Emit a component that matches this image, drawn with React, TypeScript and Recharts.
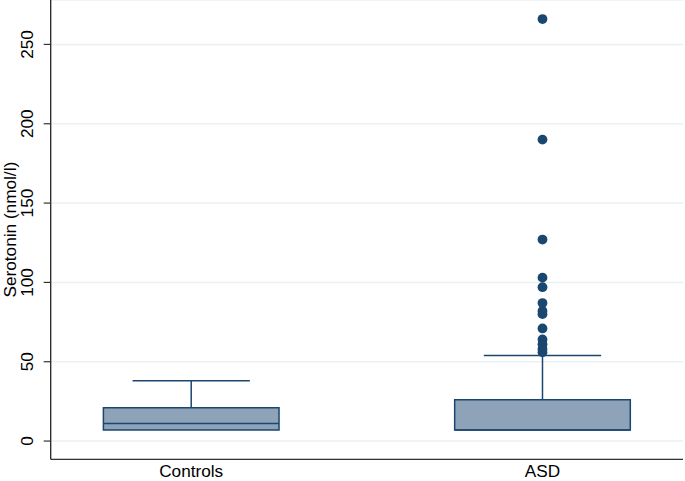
import React from 'react';
import {
  ComposedChart,
  Scatter,
  XAxis,
  YAxis,
  CartesianGrid,
  ReferenceArea,
  ReferenceLine,
  Label,
} from 'recharts';

const categories = ['Controls', 'ASD'];
const categoryPos = [1, 2];
const lowerWhisker = [7, 7];
const q1 = [7, 7];
const median = [11, 7];
const q3 = [21, 26];
const upperWhisker = [38, 54];
const asdOutliers = [266, 190, 127, 103, 97, 87, 82, 80, 71, 64, 61, 58, 56];
const yTicks = [0, 50, 100, 150, 200, 250];

const BOX_HALF = 0.25;
const CAP_HALF = 0.167;
const NAVY = '#1a476f';
const BOX_FILL = '#8fa3b8';
const FONT = '"Liberation Sans", Arial, Helvetica, sans-serif';
const FS = 17.2;

const outlierData = asdOutliers.map((v) => ({ x: categoryPos[1], y: v }));

const YTick = (props: any) => {
  const { y, payload } = props;
  const tx = 33.5;
  return (
    <text
      x={tx}
      y={y}
      transform={`rotate(-90, ${tx}, ${y})`}
      textAnchor="middle"
      fontFamily={FONT}
      fontSize={FS}
      fill="#000"
    >
      {payload.value}
    </text>
  );
};

const XTick = (props: any) => {
  const { x, payload } = props;
  const idx = categoryPos.indexOf(payload.value);
  return (
    <text x={x} y={477.3} textAnchor="middle" fontFamily={FONT} fontSize={FS} fill="#000">
      {idx >= 0 ? categories[idx] : ''}
    </text>
  );
};

const YLabel = (props: any) => {
  const vb = props.viewBox || { y: 0, height: 459 };
  const cy = vb.y + vb.height / 2;
  const tx = 15.8;
  return (
    <text
      x={tx}
      y={cy}
      transform={`rotate(-90, ${tx}, ${cy})`}
      textAnchor="middle"
      fontFamily={FONT}
      fontSize={FS}
      fill="#000"
    >
      Serotonin (nmol/l)
    </text>
  );
};

export default function App() {
  return (
    <div style={{ position: 'absolute', left: 0, top: 0, background: '#fff' }}>
      <ComposedChart
        width={685}
        height={481}
        margin={{ top: 0, right: 2, bottom: 0, left: 0 }}
      >
        <CartesianGrid vertical={false} stroke="#eaf1f3" strokeWidth={1.5} />
        <XAxis
          type="number"
          dataKey="x"
          domain={[0.6, 2.4]}
          ticks={categoryPos}
          allowDataOverflow
          height={21.7}
          tickLine={false}
          tick={<XTick />}
          axisLine={{ stroke: '#333', strokeWidth: 1.2 }}
        />
        <YAxis
          type="number"
          dataKey="y"
          domain={[-11.5, 278]}
          ticks={yTicks}
          allowDataOverflow
          width={50.7}
          tickSize={7}
          tickLine={{ stroke: '#333', strokeWidth: 1.2 }}
          tick={<YTick />}
          axisLine={{ stroke: '#222', strokeWidth: 1.3 }}
        >
          <Label content={<YLabel />} />
        </YAxis>
        {categoryPos.map((c, i) => (
          <ReferenceLine
            key={`wl-${i}`}
            segment={[
              { x: c, y: q3[i] },
              { x: c, y: upperWhisker[i] },
            ]}
            stroke={NAVY}
            strokeWidth={1.5}
          />
        ))}
        {categoryPos.map((c, i) => (
          <ReferenceLine
            key={`ll-${i}`}
            segment={[
              { x: c, y: lowerWhisker[i] },
              { x: c, y: q1[i] },
            ]}
            stroke={NAVY}
            strokeWidth={1.5}
          />
        ))}
        {categoryPos.map((c, i) => (
          <ReferenceLine
            key={`cap-${i}`}
            segment={[
              { x: c - CAP_HALF, y: upperWhisker[i] },
              { x: c + CAP_HALF, y: upperWhisker[i] },
            ]}
            stroke={NAVY}
            strokeWidth={1.5}
          />
        ))}
        {categoryPos.map((c, i) => (
          <ReferenceArea
            key={`box-${i}`}
            x1={c - BOX_HALF}
            x2={c + BOX_HALF}
            y1={q1[i]}
            y2={q3[i]}
            fill={BOX_FILL}
            fillOpacity={1}
            stroke={NAVY}
            strokeWidth={1.5}
          />
        ))}
        {categoryPos.map((c, i) => (
          <ReferenceLine
            key={`med-${i}`}
            segment={[
              { x: c - BOX_HALF, y: median[i] },
              { x: c + BOX_HALF, y: median[i] },
            ]}
            stroke={NAVY}
            strokeWidth={1.5}
          />
        ))}
        <Scatter
          data={outlierData}
          isAnimationActive={false}
          shape={(p: any) => <circle cx={p.cx} cy={p.cy} r={4.9} fill={NAVY} />}
        />
      </ComposedChart>
    </div>
  );
}
